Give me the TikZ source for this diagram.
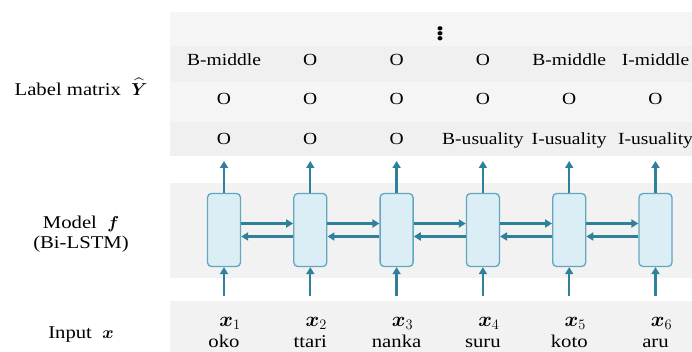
\documentclass[tikz,border=0pt]{standalone}
\usepackage{amsmath,bm}
\usepackage{fontspec}
\setmainfont{Liberation Serif}[FakeStretch=1.15]
\usetikzlibrary{arrows.meta}
\definecolor{flow}{HTML}{2F809B}
\definecolor{cellfill}{HTML}{DBEDF5}
\definecolor{celldraw}{HTML}{62A7BF}
\definecolor{panel}{HTML}{F2F2F2}
\definecolor{stripeA}{HTML}{F5F5F5}
\definecolor{stripeB}{HTML}{F0F0F0}
\begin{document}
\begin{tikzpicture}[x=1pt,y=-1pt,
  lstm/.style={draw=celldraw,fill=cellfill,line width=1.3pt,rounded corners=4pt,
    minimum width=33pt,minimum height=73pt,inner sep=0pt},
  link/.style={draw=flow,line width=2.3pt,-{Triangle[length=7pt,width=8pt]}},
  lab/.style={font=\fontsize{17}{20}\selectfont,anchor=base,inner sep=0pt},
  side/.style={font=\fontsize{18}{21}\selectfont,align=center,inner sep=0pt},
  word/.style={font=\fontsize{18}{20}\selectfont,anchor=base,inner sep=0pt},
  xin/.style={font=\fontsize{20}{22}\selectfont,anchor=base,inner sep=0pt}]
\useasboundingbox (0,0) rectangle (692,352);
\fill[white] (0,0) rectangle (692,352);
% label matrix panel with faint row stripes
\fill[stripeA] (170,12) rectangle (692,46);
\fill[stripeB] (170,46) rectangle (692,82);
\fill[stripeA] (170,82) rectangle (692,122);
\fill[stripeB] (170,122) rectangle (692,156);
% model and input panels
\fill[panel] (170,183) rectangle (692,278);
\fill[panel] (170,301) rectangle (692,352);
% side captions
\node[side] (capY) at (81,87) {Label matrix \ $\widehat{\bm{Y}}$};
\node[side] (capF) at (81,234) {Model \ $\bm{f}$\\[-1pt](Bi-LSTM)};
\node[side] (capX) at (81,335) {Input \ $\bm{x}$};
\node[font=\fontsize{26}{28}\bfseries,inner sep=0pt] (vdots) at (440,31) {$\bm{\vdots}$};
% columns
\foreach \i/\cx/\ra/\rb/\rc/\w in {
  1/224.0/B-middle/O/O/oko,
  2/310.3/O/O/O/ttari,
  3/396.6/O/O/O/nanka,
  4/482.9/O/O/B-usuality/suru,
  5/569.2/B-middle/O/I-usuality/koto,
  6/655.5/I-middle/O/I-usuality/aru}{
  \node[lstm] (c\i) at (\cx,230) {};
  \node[lab] (ya\i) at (\cx,66) {\ra};
  \node[lab] (yb\i) at (\cx,105) {\rb};
  \node[lab] (yc\i) at (\cx,145) {\rc};
  \coordinate (out\i) at (\cx,161);
  \coordinate (in\i) at (\cx,296);
  \node[xin] (x\i) at (\cx+6,326) {$\bm{x}_{\i}$};
  \node[word] (w\i) at (\cx,347) {\w};
  \draw[link] (c\i.north) -- (out\i);
  \draw[link] (in\i) -- (c\i.south);
}
% forward (upper) and backward (lower) recurrent links
\foreach \a/\b in {1/2,2/3,3/4,4/5,5/6}{
  \draw[link] ([yshift=6.5pt]c\a.east) -- ([yshift=6.5pt]c\b.west);
  \draw[link] ([yshift=-6.5pt]c\b.west) -- ([yshift=-6.5pt]c\a.east);
}
\end{tikzpicture}
\end{document}
